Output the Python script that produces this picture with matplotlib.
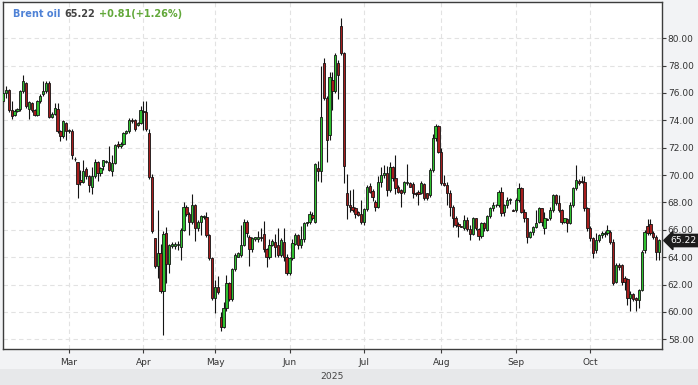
import numpy as np
import pandas as pd
import matplotlib
matplotlib.use("Agg")
from matplotlib import pyplot as plt
from matplotlib import transforms
from matplotlib.patches import Rectangle

# ---- data ----
TITLE = "Brent oil"
LAST_PRICE = 65.22
CHANGE_TEXT = "+0.81(+1.26%)"
MONTH_LABELS = ["Mar", "Apr", "May", "Jun", "Jul", "Aug", "Sep", "Oct"]
YEAR_LABEL = "2025"
Y_TICKS = [58, 60, 62, 64, 66, 68, 70, 72, 74, 76, 78, 80]

opens = [
    # Feb
    75.4, 76.0, 76.24, 74.78, 74.41, 74.66, 74.83, 76.12, 76.73, 74.83, 75.27, 74.73,
    74.41, 75.39, 75.9, 76.12, 76.75, 74.24, 74.49, 74.83, 73.2, 72.83, 73.8,
    # Mar
    73.2, 73.25, 71.2, 70.93, 69.66, 69.46, 70.46, 69.95, 69.12, 69.95, 70.93, 70.15,
    70.63, 70.93, 70.93, 70.27, 70.88, 72.3, 72.15, 72.29, 73.07, 73.2, 74.05, 74.05,
    73.68, 73.8,
    # Apr
    74.7, 74.59, 73.07, 69.85, 65.39, 63.32, 64.34, 61.56, 65.76, 63.51, 64.83, 64.83,
    64.9, 64.78, 66.0, 67.66, 67.15, 66.54, 67.83, 66.12, 66.54, 66.93, 66.93, 65.59,
    63.93,
    # May
    61.0, 61.8, 59.66, 58.88, 60.26, 62.09, 60.95, 63.15, 64.04, 64.16, 64.89, 66.6,
    65.5, 64.57, 65.3, 65.3, 65.5, 65.67, 64.57, 63.99, 64.89, 65.13, 64.89, 64.16,
    65.13, 64.04,
    # Jun
    62.82, 63.92, 65.0, 65.6, 64.9, 65.3, 66.5, 66.6, 67.1, 66.6, 70.5, 70.32,
    78.2, 75.61, 72.93, 76.95, 76.15, 78.17, 80.9, 78.95, 68.71, 67.81, 67.69, 67.57,
    67.33, 67.16,
    # Jul
    66.55, 67.5, 69.2, 68.84, 68.0, 67.69, 69.52, 70.0, 70.13, 68.9, 70.62, 69.76,
    69.15, 68.9, 68.79, 69.4, 69.4, 69.35, 68.71, 68.79, 68.71, 69.35, 68.67, 68.55,
    70.37, 72.69, 73.59,
    # Aug
    71.71, 69.4, 69.3, 68.67, 67.68, 66.9, 66.4, 66.25, 66.11, 66.71, 66.06, 65.7,
    66.83, 66.05, 65.55, 66.52, 65.98, 67.0, 67.56, 67.8, 67.8, 68.8, 67.3, 67.8,
    68.2, 67.45,
    # Sep
    67.44, 68.18, 69.03, 67.32, 66.83, 65.49, 65.86, 66.23, 66.6, 67.56, 66.16, 66.8,
    66.83, 67.44, 68.54, 67.93, 67.44, 66.59, 66.77, 66.52, 67.8, 69.03, 69.6, 69.55,
    69.52, 67.56,
    # Oct
    66.11, 65.37, 64.52, 65.25, 65.6, 65.7, 65.74, 65.86, 65.13, 62.2, 63.43, 63.43,
    62.45, 62.38, 60.99, 61.28, 60.99, 60.87, 61.6, 64.5, 66.28, 66.4, 65.75, 65.5,
    64.41,
]
highs = [
    76.3, 76.5, 76.3, 75.4, 74.8, 74.9, 76.24, 77.34, 76.8, 75.4, 75.35, 74.8,
    75.5, 75.9, 76.85, 76.9, 76.85, 74.6, 75.27, 75.27, 73.3, 74.0, 73.85,
    73.4, 73.35, 71.3, 70.95, 70.4, 71.1, 70.6, 70.0, 70.6, 71.17, 71.0, 70.6,
    71.1, 71.1, 72.1, 71.5, 72.3, 72.5, 72.4, 73.15, 73.3, 74.15, 74.15, 74.1,
    73.9, 75.02,
    75.4, 75.4, 73.4, 70.1, 65.4, 67.46, 65.0, 65.9, 66.2, 65.0, 65.1, 65.1,
    65.2, 66.1, 68.0, 67.8, 67.3, 68.6, 67.9, 66.7, 67.1, 67.1, 67.3, 65.7,
    64.0,
    62.3, 62.59, 60.0, 60.76, 62.7, 62.2, 63.2, 64.3, 64.4, 66.35, 66.77, 66.7,
    65.6, 65.5, 65.5, 65.9, 66.1, 66.67, 64.7, 65.3, 65.3, 65.67, 66.1, 65.4,
    66.1, 64.2,
    64.0, 65.3, 65.8, 65.7, 66.3, 66.6, 66.6, 67.4, 67.3, 70.9, 71.0, 78.0,
    78.54, 75.8, 77.5, 77.56, 78.9, 78.4, 81.46, 79.0, 70.1, 68.9, 69.0, 67.7,
    67.4, 68.2,
    67.6, 69.3, 69.4, 69.0, 68.2, 69.9, 70.6, 70.75, 70.7, 70.98, 70.7, 71.5,
    69.3, 69.0, 69.6, 70.8, 69.5, 69.5, 68.8, 68.9, 69.6, 69.4, 68.7, 70.5,
    73.0, 73.7, 73.65,
    72.0, 70.0, 69.5, 68.9, 67.8, 67.0, 66.6, 66.3, 67.05, 66.95, 66.35, 66.95,
    66.9, 66.1, 66.6, 66.6, 67.1, 67.7, 68.0, 67.9, 68.9, 69.15, 67.9, 68.4,
    68.3, 67.5,
    68.3, 69.45, 69.1, 67.5, 66.9, 65.9, 66.3, 67.44, 67.7, 67.6, 67.3, 66.9,
    67.7, 68.6, 68.6, 68.54, 67.5, 66.9, 66.9, 68.0, 69.1, 70.74, 69.7, 69.95,
    69.9, 67.7,
    66.3, 65.5, 65.74, 65.7, 65.9, 65.9, 66.35, 66.0, 65.3, 63.6, 63.6, 63.5,
    62.6, 62.5, 61.5, 61.4, 61.1, 61.7, 64.5, 66.0, 66.77, 66.77, 65.9, 65.6,
    65.3,
]
lows = [
    75.3, 75.6, 74.6, 74.1, 74.3, 74.6, 74.7, 76.0, 74.9, 74.1, 74.6, 74.3,
    74.35, 75.3, 75.8, 76.0, 74.2, 74.2, 74.4, 73.1, 72.46, 72.7, 72.6,
    73.1, 71.2, 71.0, 68.32, 69.3, 69.4, 69.7, 68.8, 68.63, 69.8, 69.6, 69.9,
    70.4, 70.85, 70.3, 69.95, 70.8, 72.0, 72.0, 72.2, 73.0, 73.1, 73.8, 73.2,
    73.6, 73.7,
    73.3, 73.2, 69.7, 65.8, 63.2, 62.5, 61.4, 58.32, 62.1, 62.88, 64.7, 64.6,
    64.5, 63.8, 65.9, 67.0, 65.6, 66.4, 65.2, 65.9, 65.59, 66.8, 65.5, 63.8,
    60.9,
    59.95, 61.3, 58.6, 58.8, 60.1, 60.8, 60.8, 63.0, 64.0, 64.0, 64.8, 65.5,
    63.36, 64.4, 65.2, 65.1, 65.2, 64.4, 63.31, 63.9, 64.8, 64.0, 64.0, 64.0,
    63.75, 62.7,
    62.7, 63.8, 64.9, 64.6, 64.7, 65.1, 66.3, 66.4, 66.7, 66.5, 69.6, 69.5,
    75.5, 70.98, 72.6, 74.76, 76.0, 75.54, 78.8, 69.45, 66.77, 67.3, 67.3, 66.9,
    67.0, 66.4,
    66.35, 67.4, 68.7, 68.1, 67.4, 67.6, 69.1, 69.8, 68.5, 68.8, 69.6, 68.6,
    68.7, 67.7, 68.6, 69.3, 69.1, 68.3, 68.5, 67.8, 68.6, 68.2, 68.2, 68.4,
    70.2, 72.5, 71.6,
    69.3, 69.2, 67.8, 67.0, 66.23, 66.2, 65.5, 66.2, 66.0, 65.9, 65.25, 65.6,
    66.0, 65.25, 65.4, 65.9, 65.9, 66.9, 67.4, 67.7, 67.7, 67.0, 67.0, 67.6,
    67.9, 67.35,
    67.3, 68.0, 67.2, 66.6, 65.01, 65.4, 65.6, 66.1, 66.5, 66.3, 65.7, 66.7,
    66.7, 67.3, 67.8, 67.3, 66.4, 66.5, 65.86, 66.4, 67.7, 68.9, 69.3, 69.4,
    67.4, 65.9,
    65.2, 63.91, 64.3, 65.1, 65.4, 65.5, 65.6, 65.0, 62.0, 62.1, 63.1, 62.0,
    61.6, 60.5, 60.09, 60.8, 60.1, 60.3, 61.5, 64.3, 65.6, 65.6, 65.3, 63.8,
    63.8,
]
closes = [
    76.0, 76.2, 74.78, 74.34, 74.66, 74.83, 76.12, 76.85, 75.02, 75.32, 74.73, 74.41,
    75.39, 75.8, 76.12, 76.7, 74.24, 74.49, 74.9, 73.2, 72.83, 73.93, 73.2,
    73.32, 71.49, 71.15, 69.37, 69.46, 70.32, 69.9, 69.29, 69.95, 70.93, 70.15, 70.51,
    71.07, 71.05, 70.39, 70.88, 72.22, 72.15, 72.29, 73.07, 73.2, 74.05, 73.93, 73.37,
    73.8, 74.78,
    74.59, 73.37, 69.85, 65.95, 63.32, 64.34, 61.56, 65.71, 63.51, 64.88, 64.95, 65.0,
    65.0, 66.0, 67.66, 67.15, 66.54, 67.83, 66.12, 66.54, 66.98, 67.0, 65.59, 63.93,
    61.0,
    61.8, 61.49, 58.88, 60.27, 62.09, 60.95, 63.11, 64.16, 64.28, 64.89, 66.6, 65.79,
    64.57, 65.38, 65.45, 65.5, 65.4, 64.57, 63.99, 64.89, 65.21, 64.77, 64.16, 65.26,
    64.04, 62.85,
    63.92, 65.06, 65.6, 64.9, 65.3, 66.5, 66.55, 67.16, 66.9, 70.79, 70.32, 74.27,
    75.61, 72.57, 77.2, 76.15, 78.78, 77.32, 78.95, 70.67, 67.81, 67.64, 67.45, 67.16,
    67.09, 66.6,
    67.5, 69.15, 68.79, 68.42, 67.69, 69.52, 70.0, 70.13, 68.9, 70.62, 69.76, 69.03,
    68.79, 68.71, 69.52, 69.52, 69.15, 68.71, 68.62, 68.62, 69.4, 68.3, 68.3, 70.37,
    72.69, 73.59, 71.71,
    69.45, 69.3, 68.67, 67.68, 66.9, 66.35, 66.3, 66.23, 66.71, 66.06, 65.7, 66.83,
    66.11, 65.55, 66.47, 66.11, 67.0, 67.56, 67.8, 67.85, 68.8, 67.2, 67.8, 68.2,
    68.25, 67.4,
    68.18, 69.03, 67.32, 66.83, 65.49, 65.86, 66.23, 66.5, 67.56, 66.59, 66.83, 66.7,
    67.44, 68.54, 67.93, 67.44, 66.59, 66.83, 66.52, 67.8, 69.03, 69.64, 69.45, 69.5,
    67.56, 66.11,
    65.37, 64.27, 65.25, 65.6, 65.74, 65.78, 66.0, 65.13, 62.08, 63.42, 63.3, 62.21,
    62.2, 60.99, 61.3, 60.92, 60.87, 61.6, 64.4, 65.86, 65.75, 65.75, 65.5, 64.41,
    65.22,
]

# ---- colours / style ----
GREEN = "#2fc02f"
RED = "#a51d1d"
EDGE = "#141414"
FRAME = "#3c3c3c"
GRID = "#e2e2e2"
OUTER_BG = "#f2f3f5"
BAND_BG = "#e7e8ea"
TEXT = "#333333"

W, H = 698, 385

# Sunday-Friday sessions (Good Friday closed), one candle per session
sessions = pd.date_range("2025-02-03", "2025-10-29")
sessions = sessions[(sessions.weekday != 5) & (sessions != pd.Timestamp("2025-04-18"))]
assert len(sessions) == len(opens) == len(highs) == len(lows) == len(closes)
pos = np.arange(len(sessions))
month_pos = [pos[sessions.month == m][0] for m in range(3, 11)]

o = np.array(opens)
hi = np.array(highs)
lo = np.array(lows)
c = np.array(closes)
up = c >= o

fig = plt.figure(figsize=(W / 100, H / 100), dpi=100, facecolor=OUTER_BG)
ax = fig.add_axes([2.5 / W, 1 - 349 / H, 659.5 / W, 347 / H])
ax.set_facecolor("white")

# bottom band with the year
fig.patches.append(Rectangle((0, 0), 1, 16.5 / H, transform=fig.transFigure,
                             facecolor=BAND_BG, edgecolor="none", zorder=0))
fig.text(332 / W, 1 - 376.5 / H, YEAR_LABEL, ha="center", va="center",
         fontsize=6.6, color="#444444")

# candles
ax.vlines(pos, lo, hi, color=EDGE, linewidth=0.8, zorder=2)
body_low = np.minimum(o, c)
body_h = np.maximum(np.abs(c - o), 0.05)
ax.bar(pos, body_h, bottom=body_low, width=0.8,
       color=np.where(up, GREEN, RED), edgecolor=EDGE, linewidth=0.6, zorder=3)

ax.set_xlim(-0.21, 230.06)
ax.set_ylim(57.29, 82.65)

ax.set_axisbelow(True)
ax.grid(True, color=GRID, linestyle=(0, (4, 3)), linewidth=0.8)

for side in ["left", "right", "top", "bottom"]:
    ax.spines[side].set_color(FRAME)
    ax.spines[side].set_linewidth(1.0)

ax.yaxis.tick_right()
ax.set_yticks(Y_TICKS)
ax.set_yticklabels([f"{v:.2f}" for v in Y_TICKS])
ax.set_xticks(month_pos)
ax.set_xticklabels(MONTH_LABELS)
ax.tick_params(axis="y", length=3, width=0.8, color=FRAME, labelsize=6.5,
               labelcolor=TEXT, pad=1.2)
ax.tick_params(axis="x", length=3, width=0.8, color=FRAME, labelsize=6.5,
               labelcolor=TEXT, pad=3.5)

# title pieces
t1 = ax.text(0.0155, 0.9568, TITLE, transform=ax.transAxes, ha="left", va="baseline",
             fontsize=7, fontweight="bold", color="#4f82d6")
t2 = ax.annotate(f"{LAST_PRICE:.2f}", xy=(1, 0), xycoords=t1, xytext=(3, 0),
                 textcoords="offset points", ha="left", va="bottom",
                 fontsize=7, fontweight="bold", color="#444444")
ax.annotate(CHANGE_TEXT, xy=(1, 0), xycoords=t2, xytext=(3, 0),
            textcoords="offset points", ha="left", va="bottom",
            fontsize=7, fontweight="bold", color="#62a83a")

# last price tag on the right axis
blend = transforms.blended_transform_factory(ax.transAxes, ax.transData)
ax.annotate(f"{LAST_PRICE:.2f}", xy=(1, LAST_PRICE), xycoords=blend, xytext=(6, 0),
            textcoords="offset points", ha="left", va="center", fontsize=6.6,
            color="white", annotation_clip=False,
            bbox=dict(boxstyle="larrow,pad=0.18", facecolor="#1c1c1c", edgecolor="#1c1c1c"))

fig.savefig("out.png", dpi=100, facecolor=OUTER_BG)
plt.close(fig)
